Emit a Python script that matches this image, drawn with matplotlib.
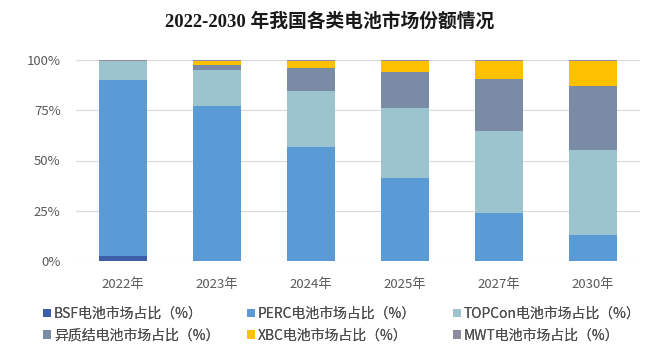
import matplotlib.pyplot as plt
import numpy as np

plt.rcParams['font.family'] = ['Noto Sans CJK SC', 'DejaVu Sans']

years = ['2022年', '2023年', '2024年', '2025年', '2027年', '2030年']
bsf = [2.3, 0, 0, 0, 0, 0]
perc = [87.9, 76.9, 56.5, 41.3, 23.9, 12.7]
topcon = [9.1, 17.9, 28.2, 34.8, 40.9, 42.3]
hjt = [0.4, 2.9, 11.3, 18.1, 25.9, 31.9]
xbc = [0.0, 1.6, 3.5, 5.3, 8.8, 12.6]
mwt = [0.3, 0.7, 0.5, 0.5, 0.5, 0.5]

series = [
    ('BSF电池市场占比（%）', bsf, '#3f5ea8'),
    ('PERC电池市场占比（%）', perc, '#5b9bd5'),
    ('TOPCon电池市场占比（%）', topcon, '#9cc4cf'),
    ('异质结电池市场占比（%）', hjt, '#7a8ba6'),
    ('XBC电池市场占比（%）', xbc, '#ffc000'),
    ('MWT电池市场占比（%）', mwt, '#8c8c9c'),
]

fig = plt.figure(figsize=(6.6, 3.56), dpi=100)
ax = fig.add_axes([76 / 660, 1 - 261 / 356, 564 / 660, 201 / 356])

x = np.arange(len(years))
bottom = np.zeros(len(years))
handles = []
for label, vals, color in series:
    b = ax.bar(x, vals, width=0.51, bottom=bottom, color=color, label=label, zorder=3)
    handles.append(b)
    bottom += np.array(vals)

ax.set_xlim(-0.5, len(years) - 0.5)
ax.set_ylim(0, 100)
ax.set_yticks([0, 25, 50, 75, 100])
ax.set_yticklabels(['0%', '25%', '50%', '75%', '100%'])
ax.set_xticks(x)
ax.set_xticklabels(years)
ax.tick_params(length=0, labelsize=9.5, colors='#595959')
ax.tick_params(axis='x', pad=12)
ax.tick_params(axis='y', pad=11)
ax.grid(axis='y', color='#d9d9d9', linewidth=0.8, zorder=0)
for s in ax.spines.values():
    s.set_visible(False)

fig.text(0.5, 1 - 22 / 356, '2022-2030 年我国各类电池市场份额情况',
         ha='center', va='center', fontsize=13.5, fontweight='bold', color='#1a1a1a',
         family=['Liberation Serif', 'Noto Sans CJK SC'])

# one small legend per column so the columns sit where the reference has them
col_x = [43, 247, 453]
for k, cx in enumerate(col_x):
    idx = [k, k + 3]
    leg = fig.legend([handles[i] for i in idx], [series[i][0] for i in idx],
                     loc='center left', bbox_to_anchor=(cx / 660, 1 - 324.5 / 356),
                     frameon=False, fontsize=10, handlelength=0.55, handleheight=0.55,
                     handletextpad=0.25, labelspacing=0.55, borderpad=0,
                     borderaxespad=0, labelcolor='#4d4d4d')
    fig.add_artist(leg)

plt.savefig('out.png', dpi=100)
